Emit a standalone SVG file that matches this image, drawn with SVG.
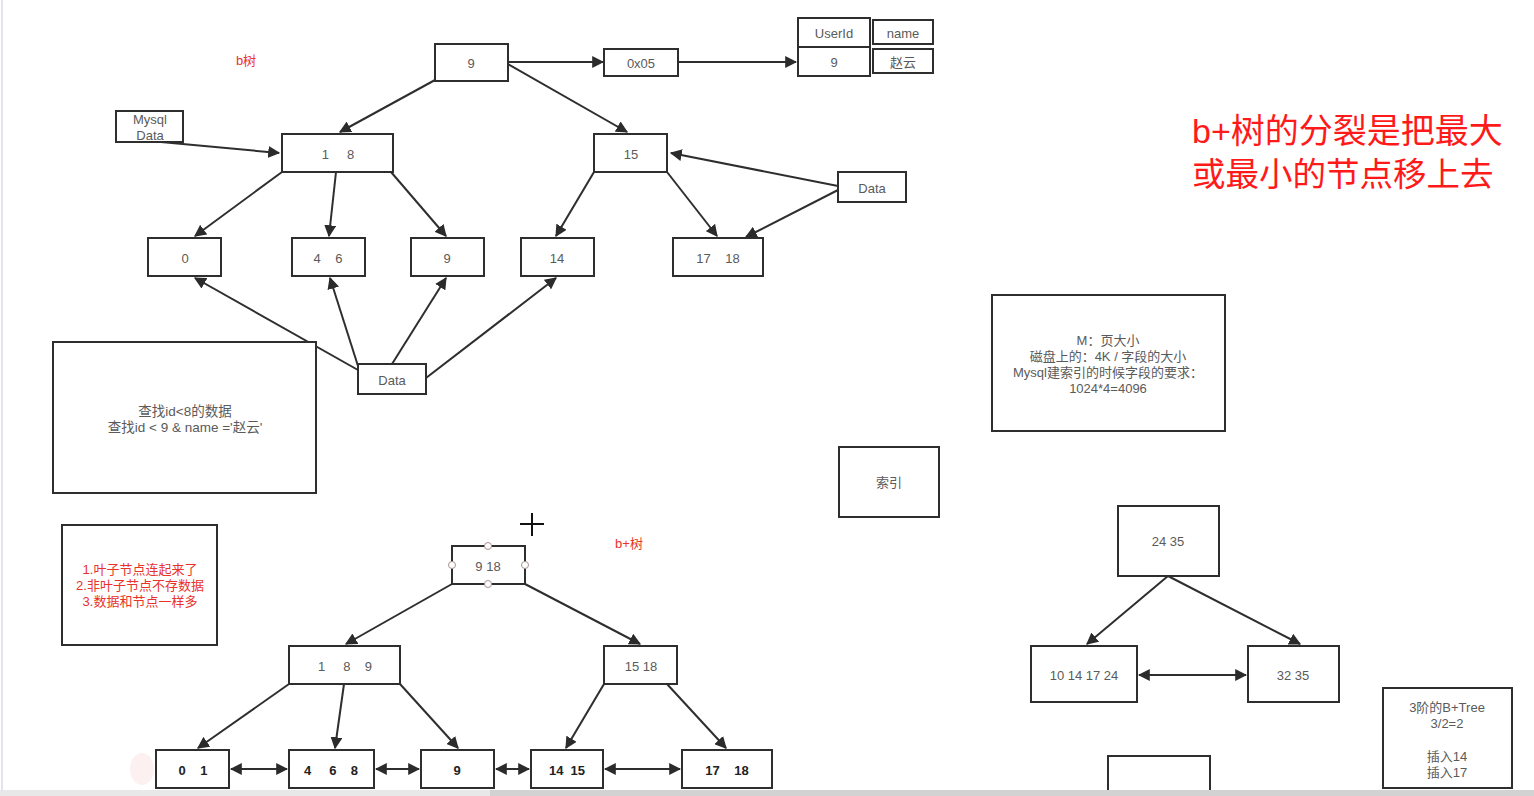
<svg xmlns="http://www.w3.org/2000/svg" width="1534" height="796" viewBox="0 0 1534 796">
<defs>
<marker id="ah" viewBox="0 0 10 10" refX="9" refY="5" markerWidth="12" markerHeight="12" markerUnits="userSpaceOnUse" orient="auto-start-reverse">
<path d="M0,0 L10,5 L0,10 Z" fill="#2b2b2b"/>
</marker>
<style>
.n{fill:#fff;stroke:#2e2e2e;stroke-width:2}
.t{font-family:"Liberation Sans","Noto Sans CJK SC",sans-serif;font-size:13px;fill:#5a5a5a;text-anchor:middle;dominant-baseline:central}
.b{font-weight:bold;fill:#222;font-size:13px}
.r{fill:#e8322a}
.e{fill:none;stroke:#2e2e2e;stroke-width:2;marker-end:url(#ah)}
.d{fill:none;stroke:#2e2e2e;stroke-width:2;marker-end:url(#ah);marker-start:url(#ah)}
.h{fill:#fff;stroke:#a89090;stroke-width:1}
</style>
</defs>
<rect width="1534" height="796" fill="#fff"/>
<line x1="2" y1="0" x2="2" y2="796" stroke="#e4e4ec" stroke-width="2"/>

<g id="connectors">
<line class="e" x1="508" y1="62" x2="603" y2="62"/>
<line class="e" x1="678" y1="62" x2="796" y2="62"/>
<line class="e" x1="150" y1="141" x2="279" y2="153"/>
<line class="e" x1="435" y1="80" x2="340" y2="132"/>
<line class="e" x1="508" y1="64" x2="627" y2="132"/>
<line class="e" x1="282" y1="172" x2="195" y2="236"/>
<line class="e" x1="336" y1="172" x2="329" y2="236"/>
<line class="e" x1="391" y1="172" x2="446" y2="236"/>
<line class="e" x1="594" y1="172" x2="556" y2="236"/>
<line class="e" x1="667" y1="172" x2="717" y2="236"/>
<line class="e" x1="838" y1="186" x2="671" y2="153"/>
<line class="e" x1="838" y1="190" x2="746" y2="237"/>
<line class="e" x1="358" y1="370" x2="195" y2="278"/>
<line class="e" x1="358" y1="366" x2="330" y2="278"/>
<line class="e" x1="392" y1="364" x2="446" y2="278"/>
<line class="e" x1="426" y1="378" x2="556" y2="278"/>
<line class="e" x1="452" y1="584" x2="346" y2="644"/>
<line class="e" x1="525" y1="584" x2="640" y2="644"/>
<line class="e" x1="289" y1="684" x2="198" y2="748"/>
<line class="e" x1="344" y1="684" x2="335" y2="748"/>
<line class="e" x1="400" y1="684" x2="458" y2="748"/>
<line class="e" x1="604" y1="684" x2="566" y2="748"/>
<line class="e" x1="667" y1="684" x2="726" y2="748"/>
<line class="d" x1="231" y1="769" x2="287" y2="769"/>
<line class="d" x1="376" y1="769" x2="419" y2="769"/>
<line class="d" x1="496" y1="769" x2="529" y2="769"/>
<line class="d" x1="605" y1="769" x2="680" y2="769"/>
<line class="e" x1="1168" y1="576" x2="1087" y2="644"/>
<line class="e" x1="1168" y1="576" x2="1300" y2="644"/>
<line class="d" x1="1139" y1="675" x2="1246" y2="675"/>
</g>

<text class="t r" x="246" y="60">b树</text>
<text class="t r" x="629" y="543">b+树</text>

<g id="n9"><rect class="n" x="435" y="44" width="73" height="37"/><text class="t" x="471" y="63">9</text></g>
<g id="n0x05"><rect class="n" x="604" y="49" width="74" height="27"/><text class="t" x="641" y="63">0x05</text></g>
<g id="userid"><rect class="n" x="798" y="18" width="72" height="29"/><text class="t" x="834" y="33">UserId</text></g>
<g id="uid9"><rect class="n" x="798" y="47" width="72" height="29"/><text class="t" x="834" y="62">9</text></g>
<g id="name"><rect class="n" x="873" y="20" width="60" height="24"/><text class="t" x="903" y="33">name</text></g>
<g id="zhaoyun"><rect class="n" x="873" y="49" width="60" height="24"/><text class="t" x="903" y="62">赵云</text></g>
<g id="mysqldata"><rect class="n" x="116" y="111" width="67" height="31"/><text class="t" x="150" y="119">Mysql</text><text class="t" x="150" y="135">Data</text></g>
<g id="n18"><rect class="n" x="282" y="134" width="111" height="38"/><text class="t" x="338" y="154" xml:space="preserve">1     8</text></g>
<g id="n15"><rect class="n" x="594" y="134" width="73" height="38"/><text class="t" x="631" y="154">15</text></g>
<g id="dataR"><rect class="n" x="838" y="172" width="68" height="30"/><text class="t" x="872" y="188">Data</text></g>
<g id="l0"><rect class="n" x="148" y="238" width="73" height="38"/><text class="t" x="185" y="258">0</text></g>
<g id="l46"><rect class="n" x="292" y="238" width="73" height="38"/><text class="t" x="328" y="258" xml:space="preserve">4    6</text></g>
<g id="l9"><rect class="n" x="411" y="238" width="73" height="38"/><text class="t" x="447" y="258">9</text></g>
<g id="l14"><rect class="n" x="521" y="238" width="73" height="38"/><text class="t" x="557" y="258">14</text></g>
<g id="l1718"><rect class="n" x="673" y="238" width="90" height="38"/><text class="t" x="718" y="258" xml:space="preserve">17    18</text></g>
<g id="query"><rect class="n" x="53" y="342" width="263" height="151"/><text class="t" x="185" y="411" style="font-size:13.5px">查找id&lt;8的数据</text><text class="t" x="185" y="427" style="font-size:13.5px">查找id &lt; 9 &amp; name ='赵云'</text></g>
<g id="dataB"><rect class="n" x="358" y="364" width="68" height="30"/><text class="t" x="392" y="380">Data</text></g>

<text class="t" x="1192" y="131" style="font-size:34px;fill:#ff1a1a;text-anchor:start">b+树的分裂是把最大</text>
<text class="t" x="1192" y="174" style="font-size:33.5px;fill:#ff1a1a;text-anchor:start">或最小的节点移上去</text>

<g id="mnote"><rect class="n" x="992" y="295" width="233" height="136"/>
<text class="t" x="1108" y="340">M：页大小</text>
<text class="t" x="1108" y="356">磁盘上的：4K / 字段的大小</text>
<text class="t" x="1108" y="372">Mysql建索引的时候字段的要求：</text>
<text class="t" x="1108" y="388">1024*4=4096</text></g>
<g id="suoyin"><rect class="n" x="839" y="447" width="100" height="70"/><text class="t" x="889" y="482">索引</text></g>

<g id="rednote"><rect class="n" x="62" y="525" width="155" height="120"/>
<text class="t r" x="140" y="569">1.叶子节点连起来了</text>
<text class="t r" x="140" y="585">2.非叶子节点不存数据</text>
<text class="t r" x="140" y="601">3.数据和节点一样多</text></g>

<g id="cursor"><line x1="532" y1="513" x2="532" y2="536" stroke="#111" stroke-width="2"/><line x1="520" y1="524" x2="544" y2="524" stroke="#111" stroke-width="2"/></g>

<g id="p918"><rect class="n" x="452" y="546" width="73" height="38"/><text class="t" x="488" y="566">9 18</text>
<circle class="h" cx="488" cy="546" r="3.5"/><circle class="h" cx="488" cy="584" r="3.5"/><circle class="h" cx="452" cy="565" r="3.5"/><circle class="h" cx="525" cy="565" r="3.5"/></g>
<g id="p189"><rect class="n" x="289" y="646" width="111" height="38"/><text class="t" x="345" y="666" xml:space="preserve">1     8    9</text></g>
<g id="p1518"><rect class="n" x="604" y="646" width="73" height="38"/><text class="t" x="641" y="666">15 18</text></g>

<ellipse cx="142" cy="769" rx="12" ry="16" fill="#fdf0f0"/>
<g id="q01"><rect class="n" x="156" y="750" width="73" height="38"/><text class="t b" x="193" y="770" xml:space="preserve">0    1</text></g>
<g id="q468"><rect class="n" x="289" y="750" width="85" height="38"/><text class="t b" x="331" y="770" xml:space="preserve">4     6    8</text></g>
<g id="q9"><rect class="n" x="421" y="750" width="73" height="38"/><text class="t b" x="457" y="770">9</text></g>
<g id="q1415"><rect class="n" x="531" y="750" width="72" height="38"/><text class="t b" x="567" y="770" xml:space="preserve">14  15</text></g>
<g id="q1718"><rect class="n" x="682" y="750" width="90" height="38"/><text class="t b" x="727" y="770" xml:space="preserve">17    18</text></g>

<g id="r2435"><rect class="n" x="1118" y="506" width="101" height="70"/><text class="t" x="1168" y="541">24 35</text></g>
<g id="r10"><rect class="n" x="1031" y="646" width="106" height="56"/><text class="t" x="1084" y="675">10 14 17 24</text></g>
<g id="r3235"><rect class="n" x="1248" y="646" width="91" height="56"/><text class="t" x="1293" y="675">32 35</text></g>

<g id="order3"><rect class="n" x="1383" y="688" width="129" height="100"/>
<text class="t" x="1447" y="707">3阶的B+Tree</text>
<text class="t" x="1447" y="723">3/2=2</text>
<text class="t" x="1447" y="756">插入14</text>
<text class="t" x="1447" y="772">插入17</text></g>
<g id="partial"><rect class="n" x="1108" y="756" width="102" height="50"/></g>

<rect x="0" y="790" width="1534" height="6" fill="#e8e8e8"/>
<rect x="490" y="790" width="1044" height="6" fill="#d2d2d2"/>
</svg>
